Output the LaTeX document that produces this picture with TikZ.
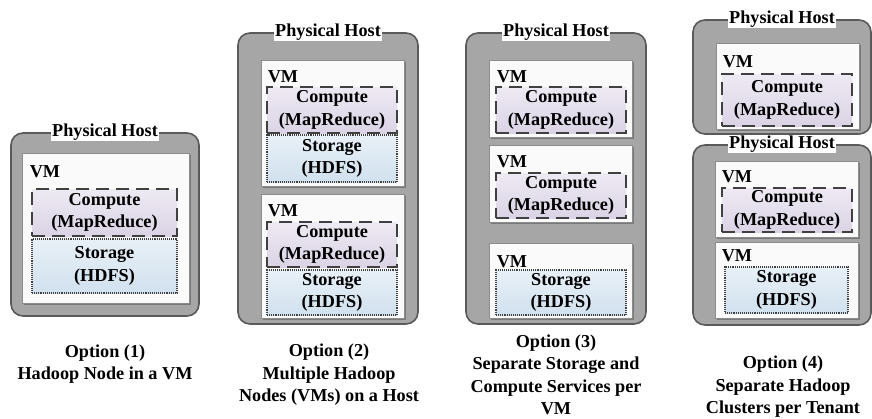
\documentclass[tikz,border=0pt]{standalone}
\usepackage{fontspec}
\setmainfont{Liberation Serif}
\usepackage{tikz}
\usepackage{xcolor}
\usetikzlibrary{shadows}

\definecolor{hostgray}{HTML}{A6A6A6}
\definecolor{hostline}{HTML}{5A5A5A}
\definecolor{vmline}{HTML}{8C8C8C}
\definecolor{boxline}{HTML}{404040}
\definecolor{mrtop}{HTML}{EEEAF3}
\definecolor{mrbot}{HTML}{DAD3E5}
\definecolor{fstop}{HTML}{E8F0F7}
\definecolor{fsbot}{HTML}{D1E1EE}

\tikzset{
	every node/.style={font=\fontsize{18.2}{22.5}\selectfont\bfseries},
	hostbox/.style={shape=rectangle, rounded corners=12pt, fill=hostgray, draw=hostline, line width=1.6pt},
	hosttitle/.style={fill=white, inner sep=1pt},
	vmbox/.style={shape=rectangle, fill=black!2, draw=vmline, line width=0.8pt, drop shadow={shadow xshift=1.6pt, shadow yshift=-1.6pt, fill=black!60, opacity=0.7}},
	computebox/.style={shape=rectangle, top color=mrtop, bottom color=mrbot, draw=boxline, line width=1.6pt, dash pattern=on 13pt off 7pt, align=center, inner sep=0pt},
	storagebox/.style={shape=rectangle, top color=fstop, bottom color=fsbot, draw=boxline, line width=1.1pt, densely dotted, align=center, inner sep=0pt},
	vmlabel/.style={anchor=base west, inner sep=0pt},
	optioncaption/.style={align=center, inner sep=0pt}
}

\begin{document}
\begin{tikzpicture}[x=1pt, y=-1pt]
	\useasboundingbox (0, 0) rectangle (872, 418);
	% Option (1):
	\node[hostbox, minimum width=188pt, minimum height=183pt](H1) at (105, 224.5){};
	\node[hosttitle](T1) at (H1.north){Physical Host};
	\node[vmbox, minimum width=167pt, minimum height=150pt](V1) at (105.5, 228){};
	\node[vmlabel](L1) at ([xshift=8pt, yshift=-25pt]V1.north west){VM};
	\node[computebox, minimum width=145pt, minimum height=47pt](C1) at (104.5, 212.5){Compute\\(MapReduce)};
	\node[storagebox, minimum width=145pt, minimum height=54pt](S1) at (104.5, 266){Storage\\(HDFS)};
	\node[optioncaption](O1) at (105, 364){Option (1)\\Hadoop Node in a VM};

	% Option (2):
	\node[hostbox, minimum width=180pt, minimum height=291pt](H2) at (328, 178.5){};
	\node[hosttitle](T2) at (H2.north){Physical Host};
	\node[vmbox, minimum width=143pt, minimum height=126pt](V2a) at (332.5, 123){};
	\node[vmlabel](L2a) at ([xshift=7pt, yshift=-23pt]V2a.north west){VM};
	\node[computebox, minimum width=130pt, minimum height=46pt](C2a) at (332, 110){Compute\\(MapReduce)};
	\node[storagebox, minimum width=130pt, minimum height=47pt](S2a) at (332, 158.5){Storage\\(HDFS)};
	\node[vmbox, minimum width=143pt, minimum height=124pt](V2b) at (332.5, 256){};
	\node[vmlabel](L2b) at ([xshift=7pt, yshift=-23pt]V2b.north west){VM};
	\node[computebox, minimum width=130pt, minimum height=45pt](C2b) at (332, 244.5){Compute\\(MapReduce)};
	\node[storagebox, minimum width=130pt, minimum height=45pt](S2b) at (332, 292.5){Storage\\(HDFS)};
	\node[optioncaption](O2) at (329, 375){Option (2)\\Multiple Hadoop\\Nodes (VMs) on a Host};

	% Option (3):
	\node[hostbox, minimum width=180pt, minimum height=291pt](H3) at (556, 178.5){};
	\node[hosttitle](T3) at (H3.north){Physical Host};
	\node[vmbox, minimum width=143pt, minimum height=77pt](V3a) at (560.5, 98.5){};
	\node[vmlabel](L3a) at ([xshift=8pt, yshift=-23pt]V3a.north west){VM};
	\node[computebox, minimum width=130pt, minimum height=46pt](C3a) at (561, 110){Compute\\(MapReduce)};
	\node[vmbox, minimum width=143pt, minimum height=77pt](V3b) at (560.5, 183.5){};
	\node[vmlabel](L3b) at ([xshift=8pt, yshift=-23pt]V3b.north west){VM};
	\node[computebox, minimum width=130pt, minimum height=45pt](C3b) at (561, 195.5){Compute\\(MapReduce)};
	\node[vmbox, minimum width=143pt, minimum height=75pt](V3c) at (560.5, 280.5){};
	\node[vmlabel](L3c) at ([xshift=8pt, yshift=-25pt]V3c.north west){VM};
	\node[storagebox, minimum width=130pt, minimum height=45pt](S3c) at (561, 292.5){Storage\\(HDFS)};
	\node[optioncaption](O3) at (556, 375){Option (3)\\Separate Storage and\\Compute Services per\\VM};

	% Option (4):
	\node[hostbox, minimum width=178pt, minimum height=114pt](H4a) at (782, 77){};
	\node[hosttitle](T4a) at (H4a.north){Physical Host};
	\node[vmbox, minimum width=143pt, minimum height=86pt](V4a) at (787.5, 86){};
	\node[vmlabel](L4a) at ([xshift=7pt, yshift=-25pt]V4a.north west){VM};
	\node[computebox, minimum width=130pt, minimum height=52pt](C4a) at (787, 100){Compute\\(MapReduce)};
	\node[hostbox, minimum width=178pt, minimum height=180pt](H4b) at (782, 235){};
	\node[hosttitle](T4b) at (H4b.north){Physical Host};
	\node[vmbox, minimum width=143pt, minimum height=76pt](V4b) at (786.5, 199){};
	\node[vmlabel](L4b) at ([xshift=7pt, yshift=-22pt]V4b.north west){VM};
	\node[computebox, minimum width=130pt, minimum height=44pt](C4b) at (787, 210){Compute\\(MapReduce)};
	\node[vmbox, minimum width=143pt, minimum height=76pt](V4c) at (786.5, 280){};
	\node[vmlabel](L4c) at ([xshift=7pt, yshift=-20pt]V4c.north west){VM};
	\node[storagebox, minimum width=123pt, minimum height=46pt](S4c) at (786.5, 290){Storage\\(HDFS)};
	\node[optioncaption](O4) at (783, 387){Option (4)\\Separate Hadoop\\Clusters per Tenant};
\end{tikzpicture}
\end{document}
